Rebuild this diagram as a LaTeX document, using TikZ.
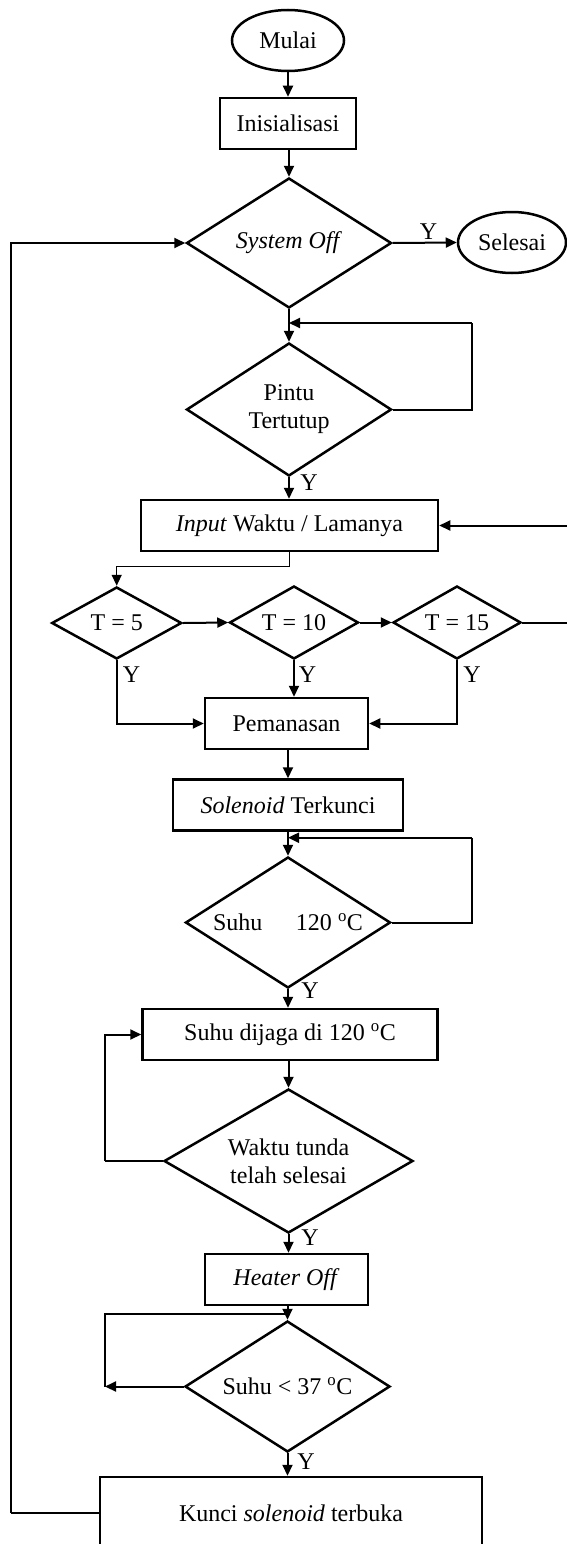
\documentclass[tikz,border=0pt]{standalone}
\usepackage{fontspec}
\setmainfont{Liberation Serif}
\usetikzlibrary{shapes.geometric,arrows.meta}
\newcommand{\figfont}{\fontsize{24}{28}\selectfont}
\tikzset{
  shp/.style={draw, line width=2.5pt, inner sep=0pt, align=center, font=\figfont},
  boxs/.style={shp, rectangle},
  dia/.style={shp, diamond, shape aspect=1.5},
  term/.style={shp, ellipse},
  arr/.style={line width=2pt, -{Triangle[length=11pt,width=10pt]}},
  ln/.style={line width=2pt},
  thin ln/.style={line width=1.4pt},
  lbl/.style={font=\figfont, inner sep=0pt}
}
\begin{document}
\begin{tikzpicture}[x=1pt,y=-1pt]
\useasboundingbox (0,0) rectangle (566,1544);
% nodes
\node[term, minimum width=112pt, minimum height=61pt] (mulai) at (288,40.5) {Mulai};
\node[boxs, minimum width=136pt, minimum height=51pt] (init) at (288,123.5) {Inisialisasi};
\node[dia, minimum width=205pt, minimum height=130pt] (sysoff) at (289,243) {\textit{System Off}};
\node[term, minimum width=108pt, minimum height=61pt] (selesai) at (512,242.5) {Selesai};
\node[dia, minimum width=205pt, minimum height=133pt] (pintu) at (289,409.5) {Pintu\\Tertutup};
\node[boxs, minimum width=297pt, minimum height=51pt] (input) at (289.5,525.5) {\textit{Input} Waktu / Lamanya};
\node[dia, minimum width=130pt, minimum height=72pt] (t5) at (116.7,623) {T = 5};
\node[dia, minimum width=129pt, minimum height=73pt] (t10) at (294,622.5) {T = 10};
\node[dia, minimum width=128pt, minimum height=73pt] (t15) at (457,622.5) {T = 15};
\node[boxs, minimum width=163pt, minimum height=51pt] (pem) at (286.5,723.5) {Pemanasan};
\node[boxs, minimum width=230pt, minimum height=51pt] (sol) at (288,805) {\textit{Solenoid} Terkunci};
\node[dia, minimum width=205pt, minimum height=131pt] (suhu) at (288,922.5) {Suhu\hspace{1.4em}120 \textsuperscript{o}C};
\node[boxs, minimum width=295pt, minimum height=51pt] (jaga) at (290,1034.5) {Suhu dijaga di 120 \textsuperscript{o}C};
\node[dia, minimum width=249pt, minimum height=144pt] (waktu) at (288.5,1161) {Waktu tunda\\telah selesai};
\node[boxs, minimum width=163pt, minimum height=51pt] (heater) at (286.5,1279.5) {\textit{Heater Off}};
\node[dia, minimum width=205pt, minimum height=131pt] (suhu37) at (287.5,1386.5) {Suhu < 37 \textsuperscript{o}C};
\node[boxs, minimum width=382pt, minimum height=72pt] (kunci) at (291,1513) {Kunci \textit{solenoid} terbuka};
% helper coordinates
\coordinate (loopA) at (472,323);
\coordinate (rcorner) at (569,525.5);
\coordinate (loopB) at (472,837.7);
\coordinate (loopC) at (105,1161);
\coordinate (loopD) at (105,1314);
\coordinate (leftC) at (11,1513);
% connectors
\draw[arr] (mulai.south) -- (mulai.south |- init.north);
\draw[arr] (init.south -| sysoff.north) -- (sysoff.north);
\draw[arr] (sysoff.east) -- (selesai.west);
\node[lbl] (ys) at (428.5,232) {Y};
\draw[arr] (sysoff.south) -- (pintu.north);
\draw[ln] (pintu.east) -| (loopA);
\draw[arr] (loopA) -- (loopA -| pintu.north);
\draw[arr] (pintu.south) -- (pintu.south |- input.north);
\node[lbl] (yp) at (309,483) {Y};
\draw[thin ln, -{Triangle[length=11pt,width=10pt]}] (input.south) -- ++(0,14) -| (t5.north);
\draw[arr] (t5.east) -- (t10.west);
\draw[arr] (t10.east) -- (t15.west);
\draw[ln] (t15.east) -| (rcorner);
\draw[arr] (rcorner) -- (input.east);
\draw[arr] (t5.south) |- (pem.west);
\node[lbl] (y5) at (131.5,674.5) {Y};
\draw[arr] (t10.south) -- (t10.south |- pem.north);
\node[lbl] (y10) at (307.5,674.5) {Y};
\draw[arr] (t15.south) |- (pem.east);
\node[lbl] (y15) at (472,674.5) {Y};
\draw[arr] (pem.south -| sol.north) -- (sol.north);
\draw[arr] (sol.south) -- (suhu.north);
\draw[ln] (suhu.east) -| (loopB);
\draw[arr] (loopB) -- (loopB -| suhu.north);
\draw[arr] (suhu.south) -- (suhu.south |- jaga.north);
\node[lbl] (y120) at (310,991) {Y};
\draw[arr] (jaga.south -| waktu.north) -- (waktu.north);
\draw[ln] (waktu.west) -- (loopC);
\draw[arr] (loopC) |- (jaga.west);
\draw[arr] (waktu.south) -- (waktu.south |- heater.north);
\node[lbl] (yw) at (310,1238) {Y};
\draw[arr] (heater.south -| suhu37.north) -- (suhu37.north);
\draw[arr] (suhu37.west) -- (suhu37.west -| loopD);
\draw[ln] (suhu37.west -| loopD) -- (loopD) -- (loopD -| suhu37.north);
\draw[arr] (suhu37.south) -- (suhu37.south |- kunci.north);
\node[lbl] (y37) at (306,1461.5) {Y};
\draw[ln] (kunci.west |- leftC) -- (leftC);
\draw[arr] (leftC) |- (sysoff.west);
\end{tikzpicture}
\end{document}
